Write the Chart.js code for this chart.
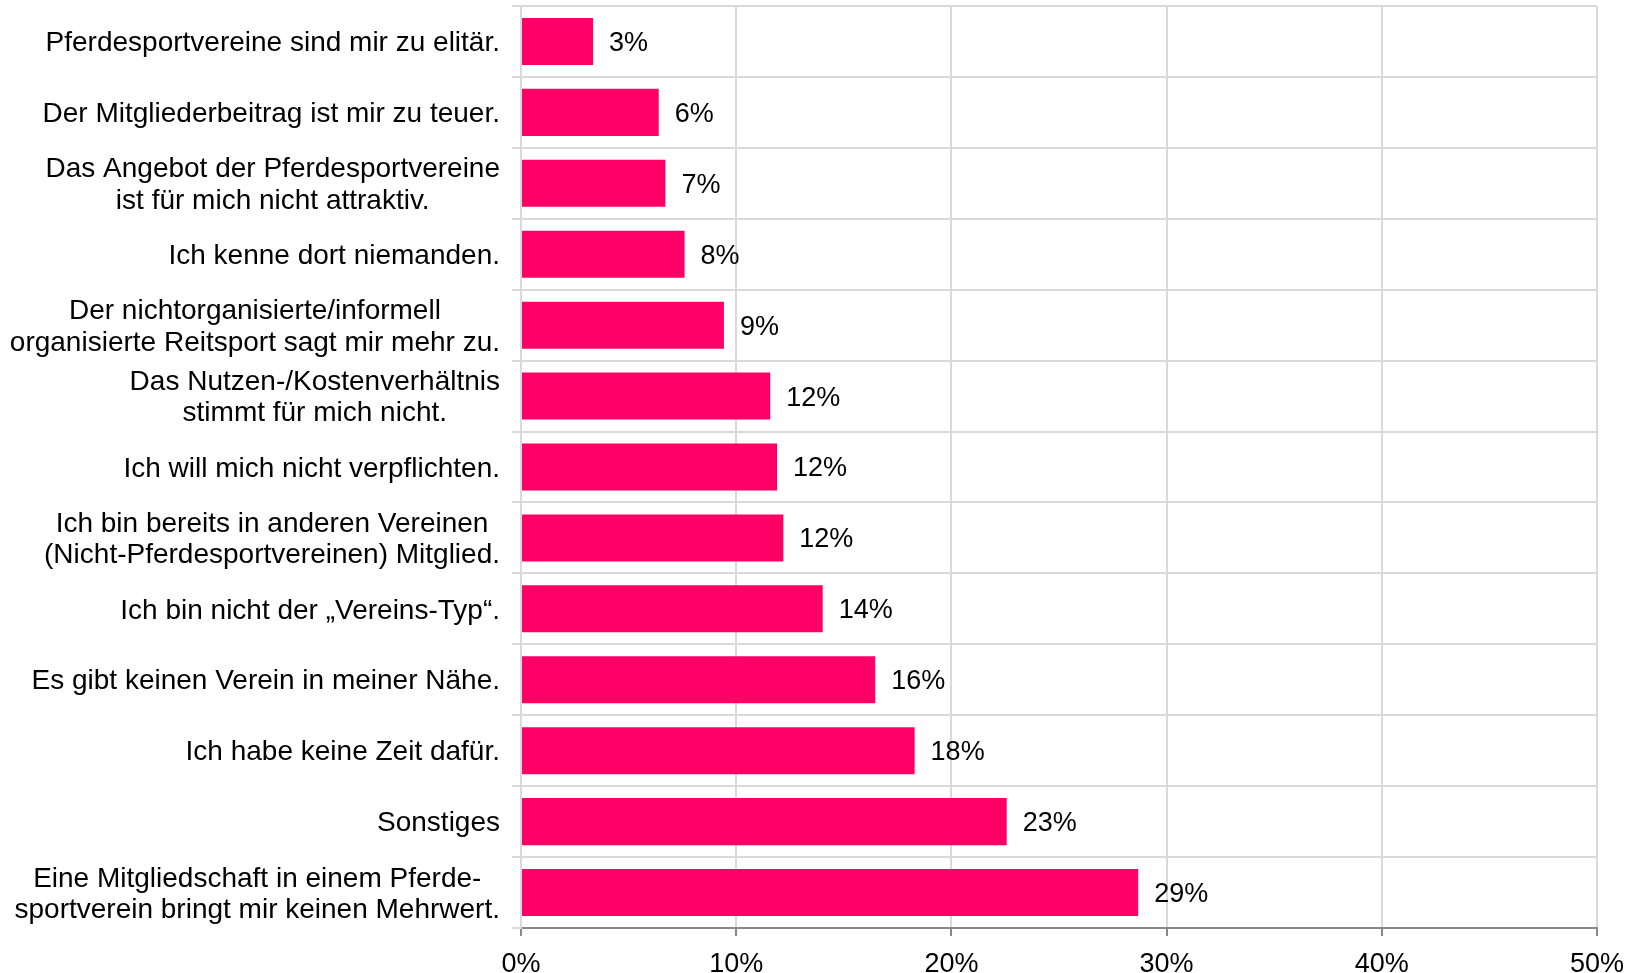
<!DOCTYPE html>
<html>
<head>
<meta charset="utf-8">
<script src="https://cdn.jsdelivr.net/npm/chart.js@4.4.0/dist/chart.umd.min.js"></script>
<style>
html, body { margin: 0; padding: 0; background: #fff; }
#wrap { width: 1641px; height: 973px; position: relative; }
</style>
</head>
<body>
<div id="wrap"><canvas id="c"></canvas></div>
<script>
const categories = [
  ["Pferdesportvereine sind mir zu elitär."],
  ["Der Mitgliederbeitrag ist mir zu teuer."],
  ["Das Angebot der Pferdesportvereine", "ist für mich nicht attraktiv."],
  ["Ich kenne dort niemanden."],
  ["Der nichtorganisierte/informell", "organisierte Reitsport sagt mir mehr zu."],
  ["Das Nutzen-/Kostenverhältnis", "stimmt für mich nicht."],
  ["Ich will mich nicht verpflichten."],
  ["Ich bin bereits in anderen Vereinen", "(Nicht-Pferdesportvereinen) Mitglied."],
  ["Ich bin nicht der „Vereins-Typ“."],
  ["Es gibt keinen Verein in meiner Nähe."],
  ["Ich habe keine Zeit dafür."],
  ["Sonstiges"],
  ["Eine Mitgliedschaft in einem Pferde-", "sportverein bringt mir keinen Mehrwert."]
];
const values = [3.35, 6.4, 6.71, 7.6, 9.43, 11.58, 11.9, 12.19, 14.02, 16.46, 18.29, 22.57, 28.68];
const valueLabels = ["3%", "6%", "7%", "8%", "9%", "12%", "12%", "12%", "14%", "16%", "18%", "23%", "29%"];
const xTicks = [0, 10, 20, 30, 40, 50];

const FONT = "'Liberation Sans', Arial, sans-serif";
const GRID = '#d9d9d9';
const AXIS = '#898989';

const labelPlugin = {
  id: 'labelPlugin',
  afterDraw(chart) {
    const ctx = chart.ctx;
    const ys = chart.scales.y;
    const meta = chart.getDatasetMeta(0);
    ctx.save();
    ctx.font = '28px ' + FONT;
    ctx.fillStyle = '#000';
    ctx.textBaseline = 'middle';
    ctx.textAlign = 'center';
    const rightEdge = 500;
    const lh = 31.4;
    const dy = 2;
    categories.forEach((lines, i) => {
      const y = ys.getPixelForValue(i);
      const maxW = Math.max(...lines.map(l => ctx.measureText(l).width));
      const cx = rightEdge - maxW / 2;
      lines.forEach((l, j) => {
        ctx.fillText(l, cx, y + dy + (j - (lines.length - 1) / 2) * lh);
      });
    });
    ctx.font = '27px ' + FONT;
    ctx.textAlign = 'left';
    meta.data.forEach((bar, i) => {
      ctx.fillText(valueLabels[i], bar.x + 16, bar.y + dy);
    });
    ctx.restore();
  }
};

new Chart(document.getElementById('c'), {
  type: 'bar',
  data: {
    labels: categories.map(l => l.join(' ')),
    datasets: [{
      data: values,
      backgroundColor: '#FF0066',
      borderWidth: 0,
      barPercentage: 0.663,
      categoryPercentage: 1.0
    }]
  },
  options: {
    indexAxis: 'y',
    responsive: true,
    maintainAspectRatio: false,
    animation: false,
    layout: { padding: { top: 6, right: 44, left: 0, bottom: 0 } },
    plugins: { legend: { display: false }, tooltip: { enabled: false } },
    scales: {
      x: {
        min: 0, max: 50,
        afterBuildTicks(scale) { scale.ticks = xTicks.map(v => ({ value: v })); },
        afterFit(scale) { scale.height = 45; },
        ticks: {
          callback: v => v + '%',
          font: { size: 27, family: FONT },
          color: '#000',
          padding: 12
        },
        grid: { color: GRID, lineWidth: 2, tickColor: AXIS, tickLength: 8 },
        border: { color: AXIS, width: 2 }
      },
      y: {
        afterFit(scale) { scale.width = 521; },
        ticks: { display: false },
        grid: { color: GRID, lineWidth: 2, offset: true, tickLength: 9 },
        border: { color: GRID, width: 2 }
      }
    }
  },
  plugins: [labelPlugin]
});
</script>
</body>
</html>
